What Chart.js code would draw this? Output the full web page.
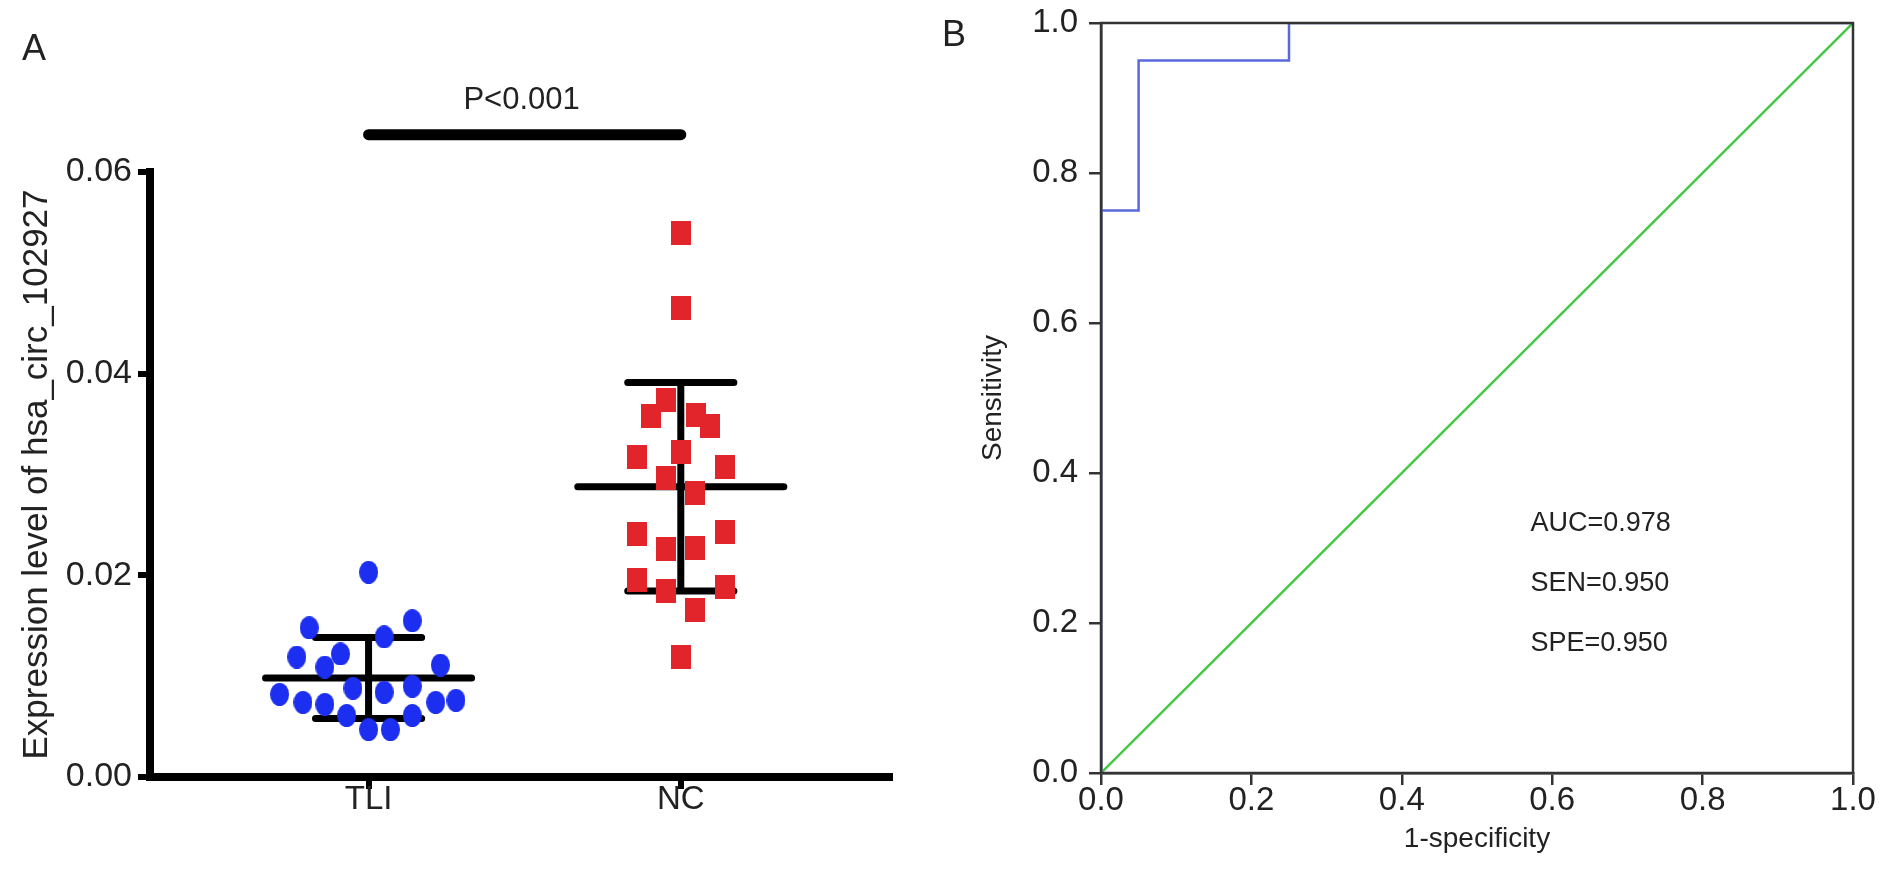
<!DOCTYPE html>
<html>
<head>
<meta charset="utf-8">
<script src="https://cdn.jsdelivr.net/npm/chart.js@4.4.1/dist/chart.umd.min.js"></script>
<style>
  html, body { margin: 0; padding: 0; background: #fff; }
  #wrap { position: relative; width: 1890px; height: 895px; overflow: hidden; }
  .panel { position: absolute; top: 0; height: 895px; width: 945px; }
  #pA { left: 0; }
  #pB { left: 945px; }
  .letter { position: absolute; font: 36px "Liberation Sans", Arial, sans-serif; color: #222; line-height: 1; }
</style>
</head>
<body>
<div id="wrap">
  <div class="panel" id="pA"><canvas id="chartA"></canvas></div>
  <div class="panel" id="pB"><canvas id="chartB"></canvas></div>
  <div class="letter" style="left:22px;top:30px">A</div>
  <div class="letter" style="left:942px;top:16px">B</div>
</div>
<script>
// Panel A data
const groups = ['TLI', 'NC'];
const tliValues = [0.0203, 0.0148, 0.0155, 0.0139, 0.0122, 0.0119, 0.0109, 0.0111, 0.0082, 0.0088,
                   0.0084, 0.0090, 0.0074, 0.0074, 0.0076, 0.0072, 0.0061, 0.0061, 0.0047, 0.0047];
const tliJitter = [0, -0.19, 0.14, 0.05, -0.09, -0.23, -0.14, 0.23, -0.285, -0.05,
                   0.05, 0.14, -0.21, 0.215, 0.28, -0.14, -0.07, 0.14, 0, 0.07];
const ncValues = [0.0540, 0.0465, 0.0374, 0.0358, 0.0359, 0.0348, 0.0317, 0.0322, 0.0307, 0.0297,
                  0.0282, 0.0241, 0.0243, 0.0226, 0.0227, 0.0195, 0.0184, 0.0188, 0.0166, 0.0119];
const ncJitter = [0, 0, -0.046, -0.095, 0.048, 0.093, -0.14, 0, 0.14, -0.048,
                  0.046, -0.14, 0.14, -0.048, 0.046, -0.14, -0.048, 0.14, 0.046, 0];
const yTicksA = [0, 0.02, 0.04, 0.06];
const pLabel = 'P<0.001';
const pBarLevel = 0.0637;

// Panel B data
const rocFpr = [0, 0, 0.05, 0.05, 0.25, 0.25, 1];
const rocTpr = [0, 0.75, 0.75, 0.95, 0.95, 1, 1];
const refFpr = [0, 1];
const refTpr = [0, 1];
const ticksB = [0, 0.2, 0.4, 0.6, 0.8, 1.0];
const stats = ['AUC=0.978', 'SEN=0.950', 'SPE=0.950'];

Chart.defaults.font.family = '"Liberation Sans", Arial, sans-serif';
Chart.defaults.color = '#222';

function makeMarker(w, h, color, shape) {
  const c = document.createElement('canvas');
  c.width = w; c.height = h;
  const g = c.getContext('2d');
  g.fillStyle = color;
  if (shape === 'ellipse') {
    g.beginPath();
    g.ellipse(w / 2, h / 2, w / 2, h / 2, 0, 0, Math.PI * 2);
    g.fill();
  } else {
    g.fillRect(0, 0, w, h);
  }
  return c;
}

function meanSd(vals) {
  const m = vals.reduce((a, b) => a + b, 0) / vals.length;
  const v = vals.reduce((a, b) => a + (b - m) * (b - m), 0) / (vals.length - 1);
  return [m, Math.sqrt(v)];
}

// mean line, SD caps and the vertical whisker, with gaps between pieces
function barSegments(center, vals) {
  const [m, s] = meanSd(vals);
  return [
    { x: center - 0.33, y: m }, { x: center + 0.33, y: m }, { x: center, y: null },
    { x: center - 0.17, y: m + s }, { x: center + 0.17, y: m + s }, { x: center, y: null },
    { x: center - 0.17, y: m - s }, { x: center + 0.17, y: m - s }, { x: center, y: null },
    { x: center, y: m - s }, { x: center, y: m + s }
  ];
}

const textA = {
  id: 'textA',
  afterDatasetsDraw(chart) {
    const { ctx, scales: { x, y } } = chart;
    ctx.save();
    ctx.font = '31px "Liberation Sans", Arial, sans-serif';
    ctx.fillStyle = '#222';
    ctx.textAlign = 'center';
    ctx.textBaseline = 'middle';
    ctx.fillText(pLabel, x.getPixelForValue(1.49), y.getPixelForValue(0.0671));
    ctx.restore();
  }
};

new Chart(document.getElementById('chartA'), {
  type: 'scatter',
  data: {
    datasets: [
      {
        data: tliValues.map((v, i) => ({ x: 1 + tliJitter[i], y: v })),
        pointStyle: makeMarker(19, 23, '#1c2ef0', 'ellipse'),
        order: 0
      },
      {
        data: ncValues.map((v, i) => ({ x: 2 + ncJitter[i], y: v })),
        pointStyle: makeMarker(20, 24, '#e2252a', 'rect'),
        order: 0
      },
      {
        data: barSegments(1, tliValues).concat([{ x: 1, y: null }], barSegments(2, ncValues)),
        showLine: true, spanGaps: false, pointRadius: 0,
        borderColor: '#000', borderWidth: 7, borderCapStyle: 'round',
        order: 1
      },
      {
        data: [{ x: 1, y: pBarLevel }, { x: 2, y: pBarLevel }],
        showLine: true, pointRadius: 0, clip: false,
        borderColor: '#000', borderWidth: 11, borderCapStyle: 'round',
        order: 1
      }
    ]
  },
  options: {
    responsive: true,
    maintainAspectRatio: false,
    animation: false,
    layout: { padding: { top: 172, right: 55, left: 0, bottom: 0 } },
    plugins: { legend: { display: false }, tooltip: { enabled: false } },
    scales: {
      x: {
        type: 'linear', min: 0.3, max: 2.67,
        afterBuildTicks: s => { s.ticks = groups.map((g, i) => ({ value: i + 1 })); },
        ticks: {
          callback: v => groups[Math.round(v) - 1],
          font: { size: 33 }, color: '#222', padding: -9
        },
        grid: { drawOnChartArea: false, color: '#000', lineWidth: 6, tickLength: 12 },
        border: { color: '#000', width: 8 },
        afterFit: s => { s.height = 118; }
      },
      y: {
        min: 0, max: 0.06,
        afterBuildTicks: s => { s.ticks = yTicksA.map(v => ({ value: v })); },
        ticks: { callback: v => v.toFixed(2), font: { size: 34 }, color: '#222', padding: 6 },
        grid: { drawOnChartArea: false, color: '#000', lineWidth: 6, tickLength: 12 },
        border: { color: '#000', width: 8 },
        title: {
          display: true, text: 'Expression level of hsa_circ_102927',
          font: { size: 35 }, color: '#222', padding: { top: 16, bottom: 0 }
        },
        afterFit: s => { s.width = 150; }
      }
    }
  },
  plugins: [textA]
});

// box round the plot (drawn over the curve, as in the figure) and the AUC text
const frameB = {
  id: 'frameB',
  afterDatasetsDraw(chart) {
    const { ctx, chartArea: a, scales: { x, y } } = chart;
    ctx.save();
    ctx.strokeStyle = '#333';
    ctx.lineWidth = 2.5;
    ctx.strokeRect(a.left, a.top, a.right - a.left, a.bottom - a.top);
    ctx.font = '27px "Liberation Sans", Arial, sans-serif';
    ctx.fillStyle = '#222';
    ctx.textAlign = 'left';
    ctx.textBaseline = 'middle';
    const rows = [0.333, 0.253, 0.173];
    stats.forEach((t, i) => ctx.fillText(t, x.getPixelForValue(0.571), y.getPixelForValue(rows[i])));
    ctx.restore();
  }
};

new Chart(document.getElementById('chartB'), {
  type: 'scatter',
  data: {
    datasets: [
      {
        data: rocFpr.map((v, i) => ({ x: v, y: rocTpr[i] })),
        showLine: true, pointRadius: 0, borderColor: '#5a68dc', borderWidth: 2.5
      },
      {
        data: refFpr.map((v, i) => ({ x: v, y: refTpr[i] })),
        showLine: true, pointRadius: 0, borderColor: '#45c845', borderWidth: 2.5
      }
    ]
  },
  options: {
    responsive: true,
    maintainAspectRatio: false,
    animation: false,
    layout: { padding: { top: 23, right: 37, left: 0, bottom: 0 } },
    plugins: { legend: { display: false }, tooltip: { enabled: false } },
    scales: {
      x: {
        min: 0, max: 1,
        afterBuildTicks: s => { s.ticks = ticksB.map(v => ({ value: v })); },
        ticks: { callback: v => v.toFixed(1), font: { size: 33 }, color: '#222', padding: -4 },
        grid: { drawOnChartArea: false, color: '#333', lineWidth: 2.5, tickLength: 12 },
        border: { color: '#333', width: 2.5 },
        title: {
          display: true, text: '1-specificity', font: { size: 28 }, color: '#222',
          padding: { top: 0, bottom: 39 }
        },
        afterFit: s => { s.height = 122; s.paddingLeft = 0; s.paddingRight = 0; }
      },
      y: {
        min: 0, max: 1,
        afterBuildTicks: s => { s.ticks = ticksB.map(v => ({ value: v })); },
        ticks: { callback: v => v.toFixed(1), font: { size: 33 }, color: '#222', padding: 11 },
        grid: { drawOnChartArea: false, color: '#333', lineWidth: 2.5, tickLength: 12 },
        border: { color: '#333', width: 2.5 },
        title: {
          display: true, text: 'Sensitivity', font: { size: 28 }, color: '#222',
          padding: { top: 31, bottom: 0 }
        },
        afterFit: s => { s.width = 156; s.paddingTop = 0; s.paddingBottom = 0; }
      }
    }
  },
  plugins: [frameB]
});
</script>
</body>
</html>
